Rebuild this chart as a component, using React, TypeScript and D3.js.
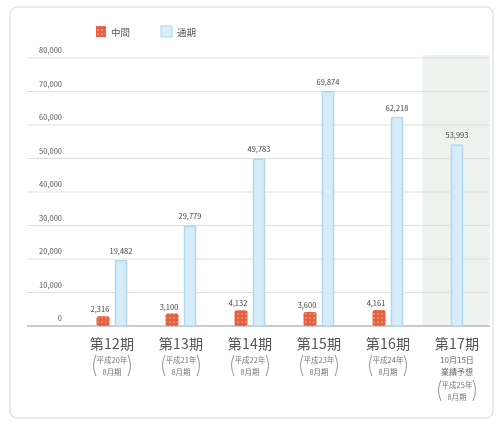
import React from "react";
import * as d3 from "d3";

const categories = ["第12期", "第13期", "第14期", "第15期", "第16期", "第17期"];
const notes: string[][] = [[], [], [], [], [], ["10月15日", "業績予想"]];
const periods: string[][] = [
  ["平成20年", "8月期"],
  ["平成21年", "8月期"],
  ["平成22年", "8月期"],
  ["平成23年", "8月期"],
  ["平成24年", "8月期"],
  ["平成25年", "8月期"],
];
const interim: (number | null)[] = [2316, 3100, 4132, 3600, 4161, null];
const fullYear: number[] = [19482, 29779, 49783, 69874, 62218, 53993];
const yTicks = [0, 10000, 20000, 30000, 40000, 50000, 60000, 70000, 80000];
const legendLabels = ["中間", "通期"];

const W = 498;
const H = 426;
const FONT = "'Noto Sans CJK JP', 'Noto Sans', sans-serif";

export default function App() {
  const x = d3.scaleBand<string>().domain(categories).range([77.5, 491.5]).padding(0);
  const y = d3.scaleLinear().domain([0, 80000]).range([326, 58]);
  const fmt = d3.format(",");
  const bw = 11;
  const off = 9;
  const cx = (c: string) => (x(c) as number) + x.bandwidth() / 2;
  const last = categories[categories.length - 1];

  return (
    <svg width={W} height={H} style={{ position: "absolute", left: 0, top: 0, background: "#fff" }} fontFamily={FONT}>
      <defs>
        <filter id="soft" x="-5%" y="-5%" width="110%" height="110%">
          <feGaussianBlur stdDeviation="0.45" />
        </filter>
        <pattern id="gift" width="4" height="4" patternUnits="userSpaceOnUse">
          <rect width="4" height="4" fill="#e4603f" />
          <circle cx="2" cy="2" r="0.8" fill="#f6b49e" />
        </pattern>
      </defs>
      <g filter="url(#soft)">
        <rect x={10} y={7} width={483} height={411} rx={7} fill="#fff" stroke="#dcdcdc" strokeWidth={1.2} />
        <rect x={x(last) as number} y={55} width={x.bandwidth() - 2} height={y(0) - 55} fill="#eef2ef" />
        {yTicks.map((t) => (
          <g key={t}>
            <line x1={27} x2={490} y1={y(t)} y2={y(t)} stroke={t === 0 ? "#b9b9b9" : "#dedede"} strokeWidth={t === 0 ? 1.5 : 1} />
            <text x={62} y={y(t) - 5} textAnchor="end" fontSize={7.5} fill="#555">
              {fmt(t)}
            </text>
          </g>
        ))}
        <rect x={96} y={26} width={10} height={11} fill="url(#gift)" />
        <text x={111} y={35.5} fontSize={9.5} fill="#555">{legendLabels[0]}</text>
        <rect x={161} y={26} width={11} height={11} fill="#d8eefa" stroke="#a9d6f0" strokeWidth={1} />
        <text x={177} y={35.5} fontSize={9.5} fill="#555">{legendLabels[1]}</text>
        {categories.map((c, i) => {
          const iv = interim[i];
          const fv = fullYear[i];
          const center = cx(c);
          const bx = iv === null ? center : center + off;
          const py = 363 + notes[i].length * 12.5;
          return (
            <g key={c}>
              {iv !== null && (
                <g>
                  <rect x={center - off - bw / 2 - 1} y={y(iv) - 2} width={bw + 2} height={y(0) - y(iv) + 2} rx={2} fill="url(#gift)" />
                  <text x={center - off - 3} y={y(iv) - 6} textAnchor="middle" fontSize={7.5} fill="#444">
                    {fmt(iv)}
                  </text>
                </g>
              )}
              <rect x={bx - bw / 2} y={y(fv)} width={bw} height={y(0) - y(fv)} fill="#d6ecf9" stroke="#b0d9f1" strokeWidth={1.5} />
              <text x={bx} y={y(fv) - 7} textAnchor="middle" fontSize={7.5} fill="#444">
                {fmt(fv)}
              </text>
              <text x={center} y={349} textAnchor="middle" fontSize={14} letterSpacing={0.3} fill="#555">
                {c}
              </text>
              {notes[i].map((s, j) => (
                <text key={"n" + j} x={center} y={362.5 + j * 12.5} textAnchor="middle" fontSize={8} fill="#666">
                  {s}
                </text>
              ))}
              {periods[i].map((s, j) => (
                <text key={"p" + j} x={center} y={py + j * 11.5} textAnchor="middle" fontSize={7.5} fill="#777">
                  {s}
                </text>
              ))}
              <path
                d={`M${center - 16},${py - 8} Q${center - 21},${py + 2} ${center - 16},${py + 13}`}
                fill="none"
                stroke="#888"
                strokeWidth={0.9}
              />
              <path
                d={`M${center + 16},${py - 8} Q${center + 21},${py + 2} ${center + 16},${py + 13}`}
                fill="none"
                stroke="#888"
                strokeWidth={0.9}
              />
            </g>
          );
        })}
      </g>
    </svg>
  );
}
